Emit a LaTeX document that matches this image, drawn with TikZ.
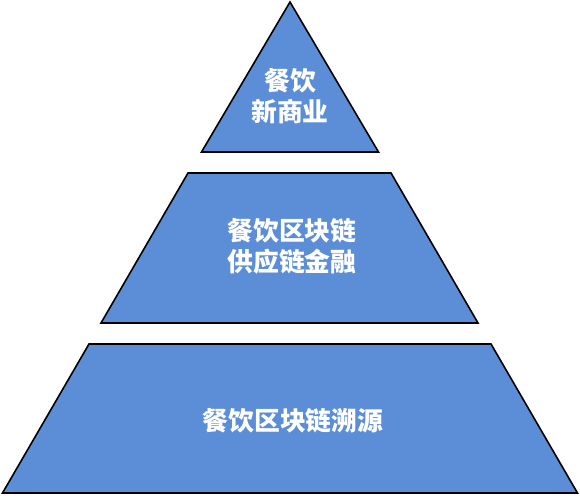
\documentclass[tikz,border=0pt]{standalone}
\usepackage{fontspec}
\newfontfamily\cjk{Noto Sans CJK SC}
\definecolor{tierblue}{RGB}{91,142,214}
\begin{document}
\begin{tikzpicture}[x=1pt,y=-1pt,
  tier/.style={fill=tierblue,draw=black,line width=1.6pt,line join=miter},
  lbl/.style={text=white,align=center,font=\cjk\bfseries\fontsize{25.8}{31.5}\selectfont,inner sep=0pt}]
\useasboundingbox (0,0) rectangle (580,495);
% top triangle
\draw[tier] (290,2) -- (378.5,152) -- (201.5,152) -- cycle;
% middle trapezoid
\draw[tier] (188,173) -- (391,173) -- (478,323) -- (101,323) -- cycle;
% bottom trapezoid
\draw[tier] (89,344) -- (491,344) -- (577.5,493) -- (2.5,493) -- cycle;
\node[lbl] (top) at (290,96) {餐饮\\新商业};
\node[lbl] (mid) at (292,246.5) {餐饮区块链\\供应链金融};
\node[lbl] (bot) at (293,421) {餐饮区块链溯源};
\end{tikzpicture}
\end{document}
